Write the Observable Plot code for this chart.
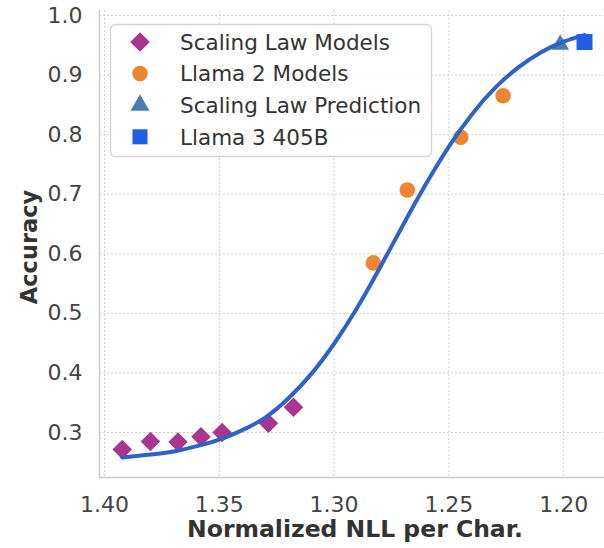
<!DOCTYPE html>
<html><head><meta charset="utf-8">
<script src="https://cdn.jsdelivr.net/npm/d3@7"></script>
<script src="https://cdn.jsdelivr.net/npm/@observablehq/plot@0.6"></script>
<style>
body{margin:0;background:#fff;}
#wrap{width:604px;height:548px;}
</style></head>
<body><div id="wrap"></div>
<script>
// ---- data ----
const scalingNLL = [1.3923, 1.3800, 1.3680, 1.3580, 1.3488, 1.3286, 1.3177];
const scalingAcc = [0.2715, 0.2850, 0.2840, 0.2930, 0.3000, 0.3156, 0.3425];
const llama2NLL = [1.2829, 1.2681, 1.2448, 1.2264];
const llama2Acc = [0.5847, 0.7072, 0.7955, 0.8654];
const predNLL = [1.2015];
const predAcc = [0.951];
const llama3NLL = [1.1909];
const llama3Acc = [0.9555];
const curveNLL = [1.3923,1.38,1.37,1.36,1.35,1.34,1.33,1.32,1.31,1.30,1.29,1.28,1.27,1.26,1.25,1.24,1.23,1.22,1.21,1.20,1.191];
const curveAcc = [0.258,0.263,0.268,0.277,0.288,0.304,0.325,0.357,0.398,0.449,0.509,0.577,0.648,0.717,0.780,0.834,0.878,0.912,0.938,0.956,0.967];
const xTicks = [1.40, 1.35, 1.30, 1.25, 1.20];
const yTicks = [0.3, 0.4, 0.5, 0.6, 0.7, 0.8, 0.9, 1.0];
const xDomain = [1.4022, 1.1822];
const yDomain = [0.2245, 1.0084];
const xTitle = "Normalized NLL per Char.";
const yTitle = "Accuracy";
const legendLabels = ["Scaling Law Models", "Llama 2 Models", "Scaling Law Prediction", "Llama 3 405B"];

// ---- styles ----
const colDiamond = "#a9358f", colCircle = "#ee8631", colTri = "#4a7cb0", colSquare = "#1f5fe6", colCurve = "#2e62c8";
const font = "'DejaVu Sans', sans-serif";

const toRows = (xs, ys) => xs.map((x, i) => ({x, y: ys[i]}));
const scaling = toRows(scalingNLL, scalingAcc);
const llama2 = toRows(llama2NLL, llama2Acc);
const pred = toRows(predNLL, predAcc);
const llama3 = toRows(llama3NLL, llama3Acc);
const curve = toRows(curveNLL, curveAcc);

const gridStyle = {stroke: "#cfcfcf", strokeOpacity: 1, strokeWidth: 1, strokeDasharray: "2,2"};

const plot = Plot.plot({
  width: 604, height: 548,
  marginLeft: 99, marginRight: 0, marginTop: 10, marginBottom: 71,
  style: {fontFamily: font, background: "white", overflow: "visible"},
  x: {domain: xDomain},
  y: {domain: yDomain},
  marks: [
    Plot.gridX(xTicks, gridStyle),
    Plot.gridY(yTicks, gridStyle),
    Plot.ruleX([xDomain[0]], {stroke: "#cccccc", strokeWidth: 1.5}),
    Plot.ruleY([yDomain[0]], {stroke: "#cccccc", strokeWidth: 1.5}),
    Plot.axisX(xTicks, {tickSize: 0, tickPadding: 19, fontSize: 22, fill: "#444", tickFormat: d => d.toFixed(2), label: null}),
    Plot.axisY(yTicks, {tickSize: 0, tickPadding: 17, fontSize: 22, fill: "#444", tickFormat: d => d.toFixed(1), label: null}),
    Plot.text([xTitle], {text: d => d, frameAnchor: "bottom", lineAnchor: "middle", textAnchor: "middle", dx: 3, dy: 52, fontSize: 23.5, fontWeight: "bold", fill: "#333"}),
    Plot.text([yTitle], {text: d => d, frameAnchor: "left", lineAnchor: "middle", textAnchor: "middle", dx: -70, dy: 3, rotate: -90, fontSize: 22.5, fontWeight: "bold", fill: "#333"}),
    Plot.dot(scaling, {x: "x", y: "y", symbol: "diamond2", r: 8.8, fill: colDiamond}),
    Plot.dot(llama2, {x: "x", y: "y", symbol: "circle", r: 7.8, fill: colCircle}),
    Plot.dot(pred, {x: "x", y: "y", symbol: "triangle", r: 6.6, fill: colTri}),
    Plot.line(curve, {x: "x", y: "y", stroke: colCurve, strokeWidth: 4, curve: "natural"}),
    Plot.dot(llama3, {x: "x", y: "y", symbol: "square", r: 9, fill: colSquare})
  ]
});
document.getElementById("wrap").appendChild(plot);

// ---- legend ----
const legSyms = [d3.symbolDiamond2, d3.symbolCircle, d3.symbolTriangle, d3.symbolSquare];
const legSizes = [Math.PI*8.8*8.8, Math.PI*7.8*7.8, Math.PI*7*7, Math.PI*8.5*8.5];
const legCols = [colDiamond, colCircle, colTri, colSquare];
const g = d3.select(plot).append("g").attr("text-anchor", "start");
g.append("rect").attr("x", 110.5).attr("y", 24.5).attr("width", 321).attr("height", 132)
  .attr("rx", 5).attr("fill", "white").attr("fill-opacity", 0.85)
  .attr("stroke", "#d4d4d4").attr("stroke-width", 1.3);
legendLabels.forEach((lab, i) => {
  const cy = 42 + i * 31.6;
  g.append("path").attr("d", d3.symbol(legSyms[i], legSizes[i])())
    .attr("transform", `translate(140,${cy})`).attr("fill", legCols[i]);
  g.append("text").attr("x", 180).attr("y", cy).attr("dy", "0.36em")
    .attr("text-anchor", "start")
    .attr("font-size", 21.5).attr("fill", "#333").attr("font-family", font).text(lab);
});
</script>
</body></html>
